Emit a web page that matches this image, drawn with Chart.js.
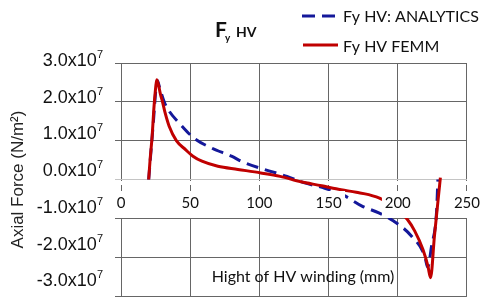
<!DOCTYPE html>
<html lang="en">
<head>
<meta charset="UTF-8">
<title>Fy HV - Axial Force</title>
<script src="https://cdn.jsdelivr.net/npm/chart.js"></script>
<style>
  html, body { margin: 0; padding: 0; background: #fff; }
</style>
</head>
<body>
<canvas id="forceChart" width="485" height="298"></canvas>
<script>
// Height along HV winding (mm) and axial force (N/m2)
const analyticsX = [20, 23, 26.3, 28, 31.2, 35, 41.9, 52.6, 65.5, 79.8, 88, 103.5, 120, 132, 146, 160, 174.5, 186.3, 197, 210, 219.5, 221.6, 224.4, 228, 229];
const analyticsY = [0, 1.3e7, 2.55e7, 2.35e7, 2.0e7, 1.75e7, 1.46e7, 1.07e7, 0.81e7, 0.6e7, 0.45e7, 0.26e7, 0.08e7, -0.08e7, -0.21e7, -0.39e7, -0.69e7, -0.86e7, -1.07e7, -1.46e7, -1.97e7, -2.26e7, -1.72e7, -0.85e7, 0];

const femmX = [20, 21, 22.5, 23.7, 25, 25.8, 27, 28.5, 30, 32, 34.8, 40, 46.6, 52, 58.5, 70, 84.5, 101, 115, 130, 145, 155.5, 170, 179, 188.7, 198, 207, 212.3, 218.2, 221.8, 223.7, 226.5, 230.8];
const femmY = [0, 0.5e7, 1.11e7, 1.8e7, 2.35e7, 2.57e7, 2.45e7, 2.2e7, 2.0e7, 1.7e7, 1.37e7, 1.0e7, 0.77e7, 0.6e7, 0.47e7, 0.34e7, 0.26e7, 0.17e7, 0.08e7, -0.06e7, -0.16e7, -0.24e7, -0.33e7, -0.39e7, -0.51e7, -0.72e7, -1.03e7, -1.33e7, -1.8e7, -2.23e7, -2.53e7, -1.46e7, 0.05e7];

const seriesNames = ['Fy HV FEMM', 'Fy HV: ANALYTICS'];
const xTicks = [0, 50, 100, 150, 200, 250];
const yTicks = [3, 2, 1, 0, -1, -2, -3]; // in units of 10^7

const RED = '#c00000';
const BLUE = '#14189a';
const GRID = '#666666';

const toPoints = (xs, ys) => xs.map((x, i) => ({ x: x, y: ys[i] }));

// labels, titles, legend and the white boxes under the x tick labels
const decor = {
    id: 'decor',
    afterDatasetsDraw(chart) {
        const ctx = chart.ctx;
        const xs = chart.scales.x, ys = chart.scales.y;
        const y0 = Math.round(ys.getPixelForValue(0));
        const yN1 = Math.round(ys.getPixelForValue(-1e7));
        ctx.save();
        ctx.font = '15px Lato';
        xs.ticks.forEach(t => {
            const px = Math.round(xs.getPixelForValue(t.value));
            const w = ctx.measureText(String(t.value)).width;
            ctx.fillStyle = '#fff';
            ctx.fillRect(px - w / 2 - 3, y0 + 11, w + 6, yN1 - y0 - 11);
            // small break in the gridline just under the zero line
            ctx.fillRect(px - 1, y0 + 1, 3, 4);
        });
        ctx.restore();
    },
    afterDraw(chart) {
        const ctx = chart.ctx;
        const ys = chart.scales.y;
        ctx.save();
        ctx.fillStyle = '#111';

        // y tick labels like 3.0x10^7
        yTicks.forEach(v => {
            const py = ys.getPixelForValue(v * 1e7);
            const cy = 0.947 * py - 0.4;
            ctx.font = '11px "Liberation Sans"';
            const sw = ctx.measureText('7').width;
            ctx.textAlign = 'left';
            ctx.fillText('7', 103 - sw, cy - 1.5);
            ctx.font = '18px "Liberation Sans"';
            ctx.textAlign = 'right';
            ctx.fillText(v.toFixed(1) + 'x10', 103 - sw, cy + 6.5);
        });

        // chart title F_y HV
        ctx.textAlign = 'left';
        ctx.font = 'bold 21px Lato';
        ctx.fillText('F', 215, 37);
        ctx.font = 'bold 10px Lato';
        ctx.fillText('y', 225, 41);
        ctx.font = 'bold 14px Lato';
        ctx.fillText('HV', 236, 37);

        // legend
        const ds = chart.data.datasets;
        ctx.lineWidth = 3;
        ctx.strokeStyle = ds[1].borderColor;
        ctx.setLineDash([13, 7]);
        ctx.beginPath();
        ctx.moveTo(302, 16);
        ctx.lineTo(336, 16);
        ctx.stroke();
        ctx.setLineDash([]);
        ctx.strokeStyle = ds[0].borderColor;
        ctx.beginPath();
        ctx.moveTo(303, 45);
        ctx.lineTo(338, 45);
        ctx.stroke();
        ctx.font = '16px Lato';
        ctx.fillText(ds[1].label, 343, 22);
        ctx.fillText(ds[0].label, 343, 52);

        // x axis title sits inside the plot
        ctx.textAlign = 'center';
        ctx.font = '16px Lato';
        ctx.fillText('Hight of HV winding (mm)', 303, 282);
        ctx.restore();
    }
};

const ctx = document.getElementById('forceChart').getContext('2d');
const forceChart = new Chart(ctx, {
    type: 'line',
    data: {
        datasets: [{
            label: seriesNames[0],
            data: toPoints(femmX, femmY),
            borderColor: RED,
            borderWidth: 3,
            pointRadius: 0,
            fill: false,
            cubicInterpolationMode: 'monotone'
        }, {
            label: seriesNames[1],
            data: toPoints(analyticsX, analyticsY),
            borderColor: BLUE,
            borderWidth: 3,
            borderDash: [12, 7],
            pointRadius: 0,
            fill: false,
            cubicInterpolationMode: 'monotone'
        }]
    },
    options: {
        responsive: false,
        animation: false,
        layout: { padding: { top: 63, right: 12, bottom: 2, left: 0 } },
        plugins: {
            legend: { display: false },
            title: { display: false },
            tooltip: { enabled: false }
        },
        scales: {
            x: {
                type: 'linear',
                position: { y: 0 },
                min: 0,
                max: 250,
                afterBuildTicks: s => { s.ticks = xTicks.map(v => ({ value: v })); },
                ticks: {
                    font: { family: 'Lato', size: 15 },
                    color: '#111',
                    padding: 5,
                    maxRotation: 0,
                    z: 1
                },
                grid: { color: GRID, tickLength: 10 },
                border: { display: false }
            },
            y: {
                type: 'linear',
                min: -3e7,
                max: 3e7,
                ticks: { stepSize: 1e7, display: false },
                afterFit: s => { s.width = 121; },
                grid: {
                    color: c => (c.tick && c.tick.value === 0 ? '#c4c4c4' : GRID),
                    tickLength: 6
                },
                border: { display: false },
                title: {
                    display: true,
                    text: 'Axial Force (N/m²)',
                    color: '#222',
                    font: { family: 'Liberation Sans', size: 17 },
                    padding: { top: 8, bottom: 0 }
                }
            }
        }
    },
    plugins: [decor]
});
</script>
</body>
</html>
